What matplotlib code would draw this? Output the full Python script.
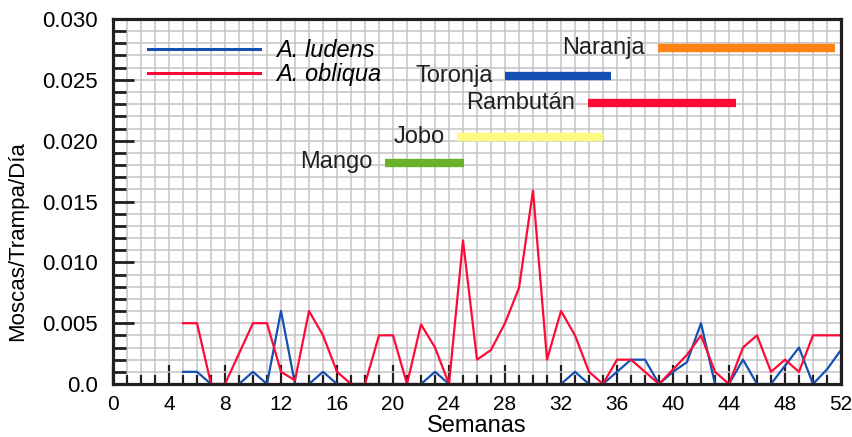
import matplotlib
matplotlib.use("Agg")
import matplotlib.pyplot as plt
from matplotlib.ticker import MultipleLocator, FuncFormatter
import numpy as np

# Weeks with trap data
weeks = np.arange(5, 53)

# Flies per trap per day, A. ludens (weeks 5-52)
ludens = [0.001, 0.001, 0.0, 0.0, 0.0, 0.001, 0.0, 0.006, 0.0, 0.0,
          0.001, 0.0, 0.0, 0.0, 0.0, 0.0, 0.0, 0.0, 0.001, 0.0,
          0.0, 0.0, 0.0, 0.0, 0.0, 0.0, 0.0, 0.0, 0.001, 0.0,
          0.0, 0.001, 0.002, 0.002, 0.0, 0.001, 0.0018, 0.005, 0.0, 0.0,
          0.002, 0.0, 0.0, 0.0015, 0.003, 0.0, 0.0012, 0.0028]

# Flies per trap per day, A. obliqua (weeks 5-52)
obliqua = [0.005, 0.005, 0.0, 0.0, 0.0025, 0.005, 0.005, 0.001, 0.0003, 0.006,
           0.004, 0.001, 0.0, 0.0, 0.004, 0.004, 0.0, 0.0049, 0.003, 0.0,
           0.0118, 0.002, 0.0028, 0.005, 0.0079, 0.0159, 0.002, 0.006, 0.004, 0.001,
           0.0, 0.002, 0.002, 0.001, 0.0, 0.0012, 0.0024, 0.004, 0.001, 0.0,
           0.003, 0.004, 0.001, 0.002, 0.001, 0.004, 0.004, 0.004]

# Fruiting season of each host (week range) and the height it is drawn at
fruits = ["Naranja", "Toronja", "Rambután", "Jobo", "Mango"]
fruit_start = [38.9, 28.0, 33.9, 24.6, 19.4]
fruit_end = [51.6, 35.6, 44.5, 35.0, 25.1]
fruit_level = [0.0276, 0.0253, 0.0231, 0.0203, 0.0182]
fruit_colors = ["#FF8214", "#1550B2", "#FF0A37", "#FDFB84", "#68B22A"]

blue = "#1550B2"
red = "#FF0A37"
dark = "#231F20"

plt.rcParams["font.family"] = ["Liberation Sans", "DejaVu Sans"]
plt.rcParams["font.size"] = 15

fig = plt.figure(figsize=(8.52, 4.37), dpi=100)
ax = fig.add_axes([113 / 852, 53 / 437, 728 / 852, 365 / 437])

# Data series
ax.plot(weeks, ludens, color=blue, lw=1.6, label="A. ludens")
ax.plot(weeks, obliqua, color=red, lw=1.6, label="A. obliqua")

# Host fruit seasons as thick bars with a label to the left
for name, x0, x1, y, c in zip(fruits, fruit_start, fruit_end, fruit_level, fruit_colors):
    ax.plot([x0, x1], [y, y], color=c, lw=6, solid_capstyle="butt")
    ax.annotate(name, (x0, y), xytext=(-9, -4), textcoords="offset points",
                ha="right", va="baseline", fontsize=17, color=dark)

# Axis limits and ticks
ax.set_xlim(0, 52)
ax.set_ylim(0, 0.030)
ax.xaxis.set_major_locator(MultipleLocator(4))
ax.xaxis.set_minor_locator(MultipleLocator(1))
ax.yaxis.set_major_locator(MultipleLocator(0.005))
ax.yaxis.set_minor_locator(MultipleLocator(0.001))
ax.yaxis.set_major_formatter(FuncFormatter(lambda v, p: "0.0" if abs(v) < 1e-9 else "{0:.3f}".format(v)))

ax.tick_params(axis="x", which="major", direction="in", length=13.5, width=1.6, color=dark,
               labelsize=15, pad=8, top=False)
ax.tick_params(axis="x", which="minor", direction="in", length=6.5, width=1.6, color=dark, top=False)
ax.tick_params(axis="y", which="major", direction="in", length=15, width=2, color=dark,
               labelsize=16, pad=11, right=False)
ax.tick_params(axis="y", which="minor", direction="in", length=9.5, width=2, color=dark, right=False)

# Square grid, one cell per week and 0.001
ax.grid(True, which="both", color="#C3C3C3", lw=1.1)
ax.set_axisbelow(True)

for side in ["left", "right", "top", "bottom"]:
    ax.spines[side].set_linewidth(2.3)
    ax.spines[side].set_color(dark)

ax.set_xlabel("Semanas", fontsize=17, labelpad=1)
ax.set_ylabel("Moscas/Trampa/Día", fontsize=16)
ax.yaxis.set_label_coords(-0.117, 0.392)

# Legend in the upper left corner
leg = ax.legend(loc="upper left", bbox_to_anchor=(0.048, 0.944), frameon=False,
                borderpad=0, borderaxespad=0, handlelength=4.75, handletextpad=0.68,
                labelspacing=0.03, prop={"style": "italic", "size": 17})
for line in leg.get_lines():
    line.set_linewidth(2.2)

plt.savefig("out.png", dpi=100)
plt.close()
